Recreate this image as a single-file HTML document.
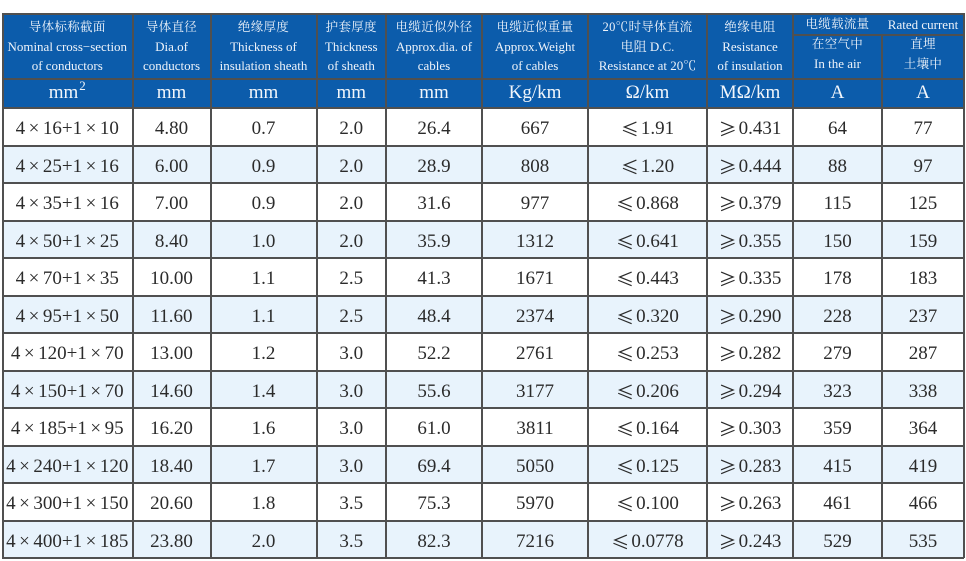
<!DOCTYPE html>
<html><head><meta charset="utf-8">
<style>
html,body{margin:0;padding:0;background:#fff;}
body{width:966px;height:561px;position:relative;overflow:hidden;font-family:"Liberation Serif","Noto Serif CJK SC",serif;}
.hb{position:absolute;background:#0c5cab;}
.hc{position:absolute;top:14px;height:64px;display:flex;flex-direction:column;justify-content:center;align-items:center;color:#eef3fa;font-size:13px;line-height:19px;white-space:nowrap;}
.hc .z{font-size:12.5px;letter-spacing:0.3px;}
.u{position:absolute;top:78px;height:30px;display:flex;justify-content:center;align-items:center;color:#f2f6fb;font-size:19px;white-space:nowrap;}
.u sup{font-size:13px;position:relative;top:-7px;vertical-align:baseline;line-height:0;margin-left:1px;}
.r{position:absolute;left:2px;width:962px;height:37.5px;}
.r.b{background:#e8f3fc;}
.r>div{position:absolute;top:0;height:37.5px;box-sizing:border-box;padding-top:5px;display:flex;justify-content:center;align-items:center;font-size:19px;color:#2b2b2b;white-space:nowrap;}
.r>div:nth-child(1){left:0;width:130.5px;}
.r>div:nth-child(2){left:130.5px;width:78px;}
.r>div:nth-child(3){left:208.5px;width:106px;}
.r>div:nth-child(4){left:314.5px;width:69.5px;}
.r>div:nth-child(5){left:384px;width:96px;}
.r>div:nth-child(6){left:480px;width:106px;}
.r>div:nth-child(7){left:586px;width:119px;}
.r>div:nth-child(8){left:705px;width:86px;}
.r>div:nth-child(9){left:791px;width:89px;}
.r>div:nth-child(10){left:880px;width:82px;}
.x{margin:0 3.5px;}
.s{display:inline-block;width:20px;font-family:"Noto Sans CJK SC",sans-serif;font-size:18px;text-align:left;}
.v{position:absolute;top:13px;height:545px;width:2px;background:#505050;}
.h{position:absolute;left:2px;width:962px;height:2px;background:#505050;}
</style></head><body>

<div class="hb" style="left:2px;top:13px;width:962px;height:95px;"></div>

<!-- header texts -->
<div class="hc" style="left:2px;width:130.5px;"><span class="z">导体标称截面</span><span>Nominal cross−section</span><span>of conductors</span></div>
<div class="hc" style="left:132.5px;width:78px;"><span class="z">导体直径</span><span>Dia.of</span><span>conductors</span></div>
<div class="hc" style="left:210.5px;width:106px;"><span class="z">绝缘厚度</span><span>Thickness of</span><span>insulation sheath</span></div>
<div class="hc" style="left:316.5px;width:69.5px;"><span class="z">护套厚度</span><span>Thickness</span><span>of sheath</span></div>
<div class="hc" style="left:386px;width:96px;"><span class="z">电缆近似外径</span><span>Approx.dia. of</span><span>cables</span></div>
<div class="hc" style="left:482px;width:106px;"><span class="z">电缆近似重量</span><span>Approx.Weight</span><span>of cables</span></div>
<div class="hc" style="left:588px;width:119px;"><span class="z">20℃时导体直流</span><span>电阻 D.C.</span><span>Resistance at 20℃</span></div>
<div class="hc" style="left:707px;width:86px;"><span class="z">绝缘电阻</span><span>Resistance</span><span>of insulation</span></div>

<div class="hc" style="left:793px;width:89px;top:14px;height:21px;"><span class="z">电缆载流量</span></div>
<div class="hc" style="left:882px;width:82px;top:14px;height:21px;"><span>Rated current</span></div>
<div class="hc" style="left:793px;width:89px;top:34px;height:40px;line-height:20px;"><span class="z">在空气中</span><span>In the air</span></div>
<div class="hc" style="left:882px;width:82px;top:34px;height:40px;line-height:20px;"><span class="z">直埋</span><span class="z">土壤中</span></div>

<!-- units -->
<div class="u" style="left:2px;width:130.5px;">mm<sup>2</sup></div>
<div class="u" style="left:132.5px;width:78px;">mm</div>
<div class="u" style="left:210.5px;width:106px;">mm</div>
<div class="u" style="left:316.5px;width:69.5px;">mm</div>
<div class="u" style="left:386px;width:96px;">mm</div>
<div class="u" style="left:482px;width:106px;">Kg/km</div>
<div class="u" style="left:588px;width:119px;">Ω/km</div>
<div class="u" style="left:707px;width:86px;">MΩ/km</div>
<div class="u" style="left:793px;width:89px;">A</div>
<div class="u" style="left:882px;width:82px;">A</div>

<!-- data rows -->
<div class="r" style="top:108px"><div>4<span class="x">×</span>16+1<span class="x">×</span>10</div><div>4.80</div><div>0.7</div><div>2.0</div><div>26.4</div><div>667</div><div><span class="s">≤</span>1.91</div><div><span class="s">≥</span>0.431</div><div>64</div><div>77</div></div>
<div class="r b" style="top:145.5px"><div>4<span class="x">×</span>25+1<span class="x">×</span>16</div><div>6.00</div><div>0.9</div><div>2.0</div><div>28.9</div><div>808</div><div><span class="s">≤</span>1.20</div><div><span class="s">≥</span>0.444</div><div>88</div><div>97</div></div>
<div class="r" style="top:183px"><div>4<span class="x">×</span>35+1<span class="x">×</span>16</div><div>7.00</div><div>0.9</div><div>2.0</div><div>31.6</div><div>977</div><div><span class="s">≤</span>0.868</div><div><span class="s">≥</span>0.379</div><div>115</div><div>125</div></div>
<div class="r b" style="top:220.5px"><div>4<span class="x">×</span>50+1<span class="x">×</span>25</div><div>8.40</div><div>1.0</div><div>2.0</div><div>35.9</div><div>1312</div><div><span class="s">≤</span>0.641</div><div><span class="s">≥</span>0.355</div><div>150</div><div>159</div></div>
<div class="r" style="top:258px"><div>4<span class="x">×</span>70+1<span class="x">×</span>35</div><div>10.00</div><div>1.1</div><div>2.5</div><div>41.3</div><div>1671</div><div><span class="s">≤</span>0.443</div><div><span class="s">≥</span>0.335</div><div>178</div><div>183</div></div>
<div class="r b" style="top:295.5px"><div>4<span class="x">×</span>95+1<span class="x">×</span>50</div><div>11.60</div><div>1.1</div><div>2.5</div><div>48.4</div><div>2374</div><div><span class="s">≤</span>0.320</div><div><span class="s">≥</span>0.290</div><div>228</div><div>237</div></div>
<div class="r" style="top:333px"><div>4<span class="x">×</span>120+1<span class="x">×</span>70</div><div>13.00</div><div>1.2</div><div>3.0</div><div>52.2</div><div>2761</div><div><span class="s">≤</span>0.253</div><div><span class="s">≥</span>0.282</div><div>279</div><div>287</div></div>
<div class="r b" style="top:370.5px"><div>4<span class="x">×</span>150+1<span class="x">×</span>70</div><div>14.60</div><div>1.4</div><div>3.0</div><div>55.6</div><div>3177</div><div><span class="s">≤</span>0.206</div><div><span class="s">≥</span>0.294</div><div>323</div><div>338</div></div>
<div class="r" style="top:408px"><div>4<span class="x">×</span>185+1<span class="x">×</span>95</div><div>16.20</div><div>1.6</div><div>3.0</div><div>61.0</div><div>3811</div><div><span class="s">≤</span>0.164</div><div><span class="s">≥</span>0.303</div><div>359</div><div>364</div></div>
<div class="r b" style="top:445.5px"><div>4<span class="x">×</span>240+1<span class="x">×</span>120</div><div>18.40</div><div>1.7</div><div>3.0</div><div>69.4</div><div>5050</div><div><span class="s">≤</span>0.125</div><div><span class="s">≥</span>0.283</div><div>415</div><div>419</div></div>
<div class="r" style="top:483px"><div>4<span class="x">×</span>300+1<span class="x">×</span>150</div><div>20.60</div><div>1.8</div><div>3.5</div><div>75.3</div><div>5970</div><div><span class="s">≤</span>0.100</div><div><span class="s">≥</span>0.263</div><div>461</div><div>466</div></div>
<div class="r b" style="top:520.5px"><div>4<span class="x">×</span>400+1<span class="x">×</span>185</div><div>23.80</div><div>2.0</div><div>3.5</div><div>82.3</div><div>7216</div><div><span class="s">≤</span>0.0778</div><div><span class="s">≥</span>0.243</div><div>529</div><div>535</div></div>

<!-- horizontal lines -->
<div class="h" style="top:12.5px"></div>
<div class="h" style="top:77.5px"></div>
<div class="h" style="top:107px"></div>
<div class="h" style="top:144.5px"></div>
<div class="h" style="top:182px"></div>
<div class="h" style="top:219.5px"></div>
<div class="h" style="top:257px"></div>
<div class="h" style="top:294.5px"></div>
<div class="h" style="top:332px"></div>
<div class="h" style="top:369.5px"></div>
<div class="h" style="top:407px"></div>
<div class="h" style="top:444.5px"></div>
<div class="h" style="top:482px"></div>
<div class="h" style="top:519.5px"></div>
<div class="h" style="top:556.5px"></div>
<div class="h" style="top:34px;left:793px;width:171px;"></div>

<!-- vertical lines -->
<div class="v" style="left:1.5px"></div>
<div class="v" style="left:131.5px"></div>
<div class="v" style="left:209.5px"></div>
<div class="v" style="left:315.5px"></div>
<div class="v" style="left:385px"></div>
<div class="v" style="left:481px"></div>
<div class="v" style="left:587px"></div>
<div class="v" style="left:706px"></div>
<div class="v" style="left:792px"></div>
<div class="v" style="left:881px;top:34px;height:524px;"></div>
<div class="v" style="left:963px"></div>

</body></html>
